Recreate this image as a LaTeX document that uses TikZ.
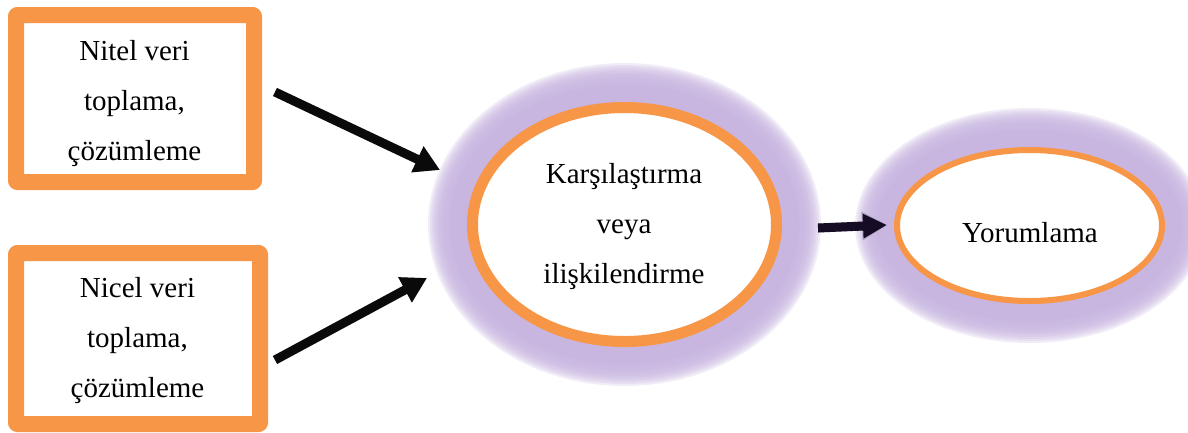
\documentclass[tikz,border=0pt]{standalone}
\usepackage{fontspec}
\setmainfont{Liberation Serif}
\usetikzlibrary{arrows.meta,shapes.geometric}
\definecolor{orng}{RGB}{247,150,70}
\definecolor{glowc}{RGB}{200,182,225}
\definecolor{arrc}{RGB}{10,10,10}
\definecolor{arrd}{RGB}{22,12,38}
\tikzset{
  boxshape/.style={draw=orng, line width=16pt, fill=white, rounded corners=1pt, line join=round, inner sep=0pt},
  ellshape/.style={ellipse, draw=orng, fill=white, inner sep=0pt},
  txt/.style={font=\fontsize{29}{50}\selectfont, align=center, inner sep=0pt},
  arr/.style={line width=9pt, -{Triangle[length=25pt,width=27pt]}},
  arrshadow/.style={line width=9pt, -{Triangle[length=25pt,width=27pt]}, draw=black, opacity=0.2, shift={(2pt,-3pt)}},
}
\newcommand\myglow[3]{%
  \fill[glowc] #1 ellipse[x radius={(#2+17)*1pt}, y radius={(#3+17)*1pt}];
  \foreach \d in {19,21,...,39}{
    \fill[glowc, fill opacity=0.24] #1 ellipse[x radius={(#2+\d)*1pt}, y radius={(#3+\d)*1pt}];
  }%
}
\begin{document}
\begin{tikzpicture}[x=1pt,y=-1pt]
\useasboundingbox[fill=white] (0,0) rectangle (1188,432);
% glows
\myglow{(624.5,224.5)}{157.5}{122.5}
\myglow{(1029.5,225.5)}{135.5}{78.5}
% boxes
\node[boxshape, minimum width=238pt, minimum height=167pt] (b1) at (135,98.5) {};
\node[boxshape, minimum width=244pt, minimum height=171pt] (b2) at (138,338.5) {};
\node[txt] (t1) at (134.5,103.25) {Nitel veri\\toplama,\\çözümleme};
\node[txt] (t2) at (137.5,340.25) {Nicel veri\\toplama,\\çözümleme};
% ellipses
\node[ellshape, line width=11pt, minimum width=304pt, minimum height=234pt] (e1) at (624.5,224.5) {};
\node[ellshape, line width=6pt, minimum width=265pt, minimum height=151pt] (e2) at (1029.5,225.5) {};
\node[txt] (t3) at (624,226.25) {Karşılaştırma\\veya\\ilişkilendirme};
\node[txt, anchor=base] (t4) at (1030,242) {Yorumlama};
% arrow ends
\coordinate (a1s) at (275,92);
\coordinate (a1e) at (440,170);
\coordinate (a2s) at (275,360);
\coordinate (a2e) at (427,278);
\coordinate (a3s) at (818,228);
\coordinate (a3e) at (887,225);
\draw[arrshadow] (a1s) -- (a1e);
\draw[arrshadow] (a2s) -- (a2e);
\draw[arrshadow] (a3s) -- (a3e);
\draw[arr, draw=arrc] (a1s) -- (a1e);
\draw[arr, draw=arrc] (a2s) -- (a2e);
\draw[arr, draw=arrd, -{Triangle[length=24pt,width=23pt]}] (a3s) -- (a3e);
\end{tikzpicture}
\end{document}
